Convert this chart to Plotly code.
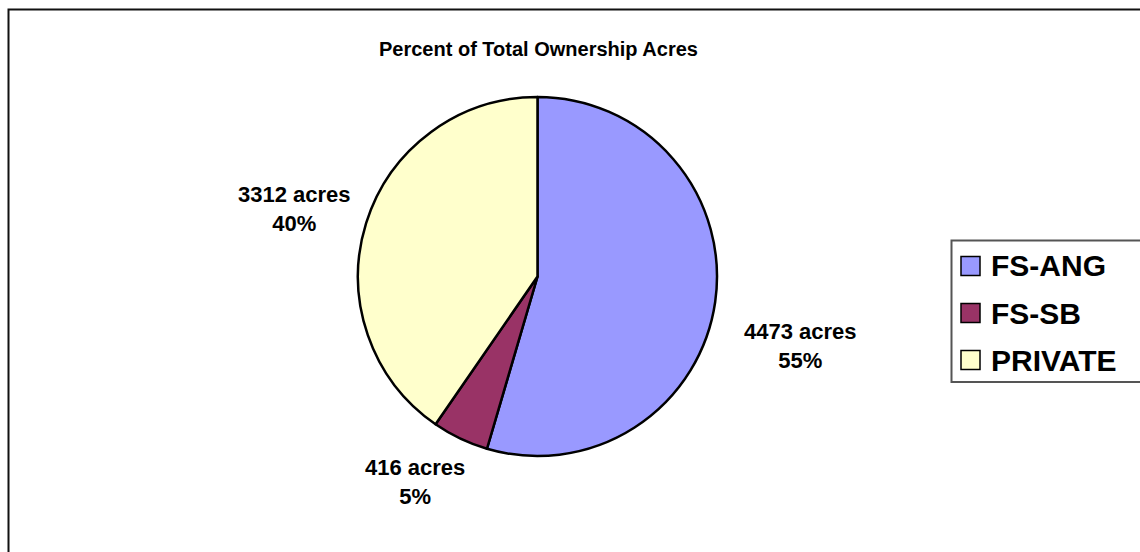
import plotly.graph_objects as go

labels = ["FS-ANG", "FS-SB", "PRIVATE"]
acres = [4473, 416, 3312]
colors = ["#9999FF", "#993366", "#FFFFCC"]
title_text = "Percent of Total Ownership Acres"

W, H = 1140, 552
def px(x):
    return x / W
def py(y):
    return 1 - y / H

total = sum(acres)
pcts = [round(100 * a / total) for a in acres]

fig = go.Figure()
fig.add_trace(go.Pie(
    labels=labels, values=acres, sort=False, direction="clockwise", rotation=0,
    marker=dict(colors=colors, line=dict(color="#000000", width=2.5)),
    textinfo="none", hoverinfo="label+value+percent", showlegend=False,
    domain=dict(x=[px(358), px(717)], y=[py(456), py(97)]),
))

FONT = "Arial, Liberation Sans, sans-serif"
annotations = []
shapes = []

# data labels (positions placed like the reference)
label_pos = [(800, 346), (415, 482), (294, 209)]
for lab, a, p, (x, y) in zip(labels, acres, pcts, label_pos):
    annotations.append(dict(
        x=px(x), y=py(y), xref="paper", yref="paper", showarrow=False,
        text=f"<b>{a} acres<br>{p}%</b>", align="center",
        xanchor="center", yanchor="middle",
        font=dict(family=FONT, size=22, color="#000000")))

# title
annotations.append(dict(
    x=px(538), y=py(49), xref="paper", yref="paper", showarrow=False,
    text=f"<b>{title_text}</b>", xanchor="center", yanchor="middle",
    font=dict(family=FONT, size=20, color="#000000")))

# outer chart border (partially clipped like reference)
shapes.append(dict(type="rect", xref="paper", yref="paper",
                   x0=px(8.5), x1=px(1160), y0=py(580), y1=py(9.5),
                   line=dict(color="#111111", width=2), fillcolor="rgba(0,0,0,0)"))

# legend box
shapes.append(dict(type="rect", xref="paper", yref="paper",
                   x0=px(951.5), x1=px(1160), y0=py(382), y1=py(240.5),
                   line=dict(color="#555555", width=2), fillcolor="#FFFFFF"))
row_y = [266, 313, 360]
for lab, c, y in zip(labels, colors, row_y):
    shapes.append(dict(type="rect", xref="paper", yref="paper",
                       x0=px(961), x1=px(980), y0=py(y + 9.5), y1=py(y - 9.5),
                       line=dict(color="#000000", width=1.5), fillcolor=c))
    annotations.append(dict(
        x=px(989), y=py(y), xref="paper", yref="paper", showarrow=False,
        text=f"<b>{lab}</b>", xanchor="left", yanchor="middle",
        font=dict(family=FONT, size=30, color="#000000")))

fig.update_layout(
    width=W, height=H, margin=dict(l=0, r=0, t=0, b=0),
    paper_bgcolor="#FFFFFF", plot_bgcolor="#FFFFFF",
    showlegend=False, annotations=annotations, shapes=shapes,
)

fig.write_html("out.html")
